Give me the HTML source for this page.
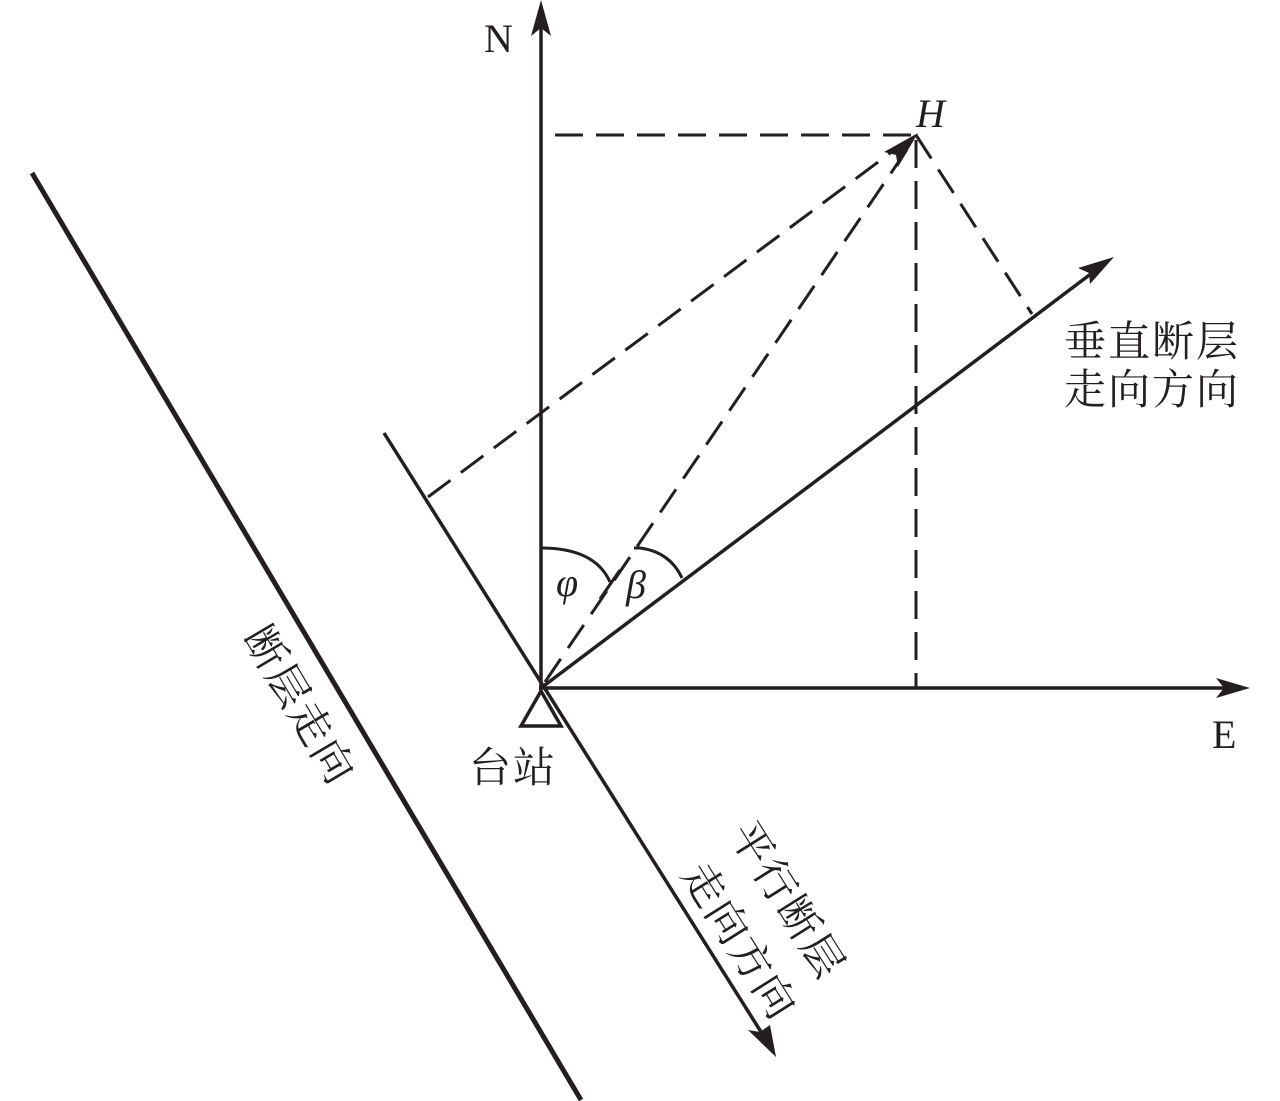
<!DOCTYPE html>
<html><head><meta charset="utf-8"><style>html,body{margin:0;padding:0;background:#fff}svg{display:block}</style></head>
<body>
<svg width="1280" height="1101" viewBox="0 0 1280 1101" xmlns="http://www.w3.org/2000/svg" font-family="'Liberation Serif','Noto Serif CJK SC',serif" fill="none" stroke="#231f20">
<line x1="32" y1="173" x2="581" y2="1100" stroke-width="5"/>
<line x1="541" y1="690" x2="541" y2="20" stroke-width="3.5"/>
<polygon points="541,0 531,36 541,28 551,36" fill="#231f20" stroke="none"/>
<line x1="539" y1="688" x2="1232" y2="688" stroke-width="3.5"/>
<polygon points="1250,688 1216,678 1224,688 1216,698" fill="#231f20" stroke="none"/>
<line x1="541" y1="688" x2="1100" y2="267" stroke-width="3.5"/>
<polygon points="1114,257 1078,268 1089,273 1090,284" fill="#231f20" stroke="none"/>
<line x1="384" y1="433" x2="768" y2="1043" stroke-width="3.5"/>
<polygon points="776,1057 748,1030 760,1032 770,1025" fill="#231f20" stroke="none"/>
<g stroke-width="3" stroke-dasharray="28,13">
<line x1="555" y1="135" x2="916" y2="135"/>
<line x1="916" y1="140" x2="916" y2="688"/>
<line x1="916" y1="135" x2="1032" y2="314"/>
<line x1="428" y1="497" x2="905" y2="142"/>
<line x1="545" y1="682" x2="908" y2="148"/>
</g>
<polygon points="918,133 884,152 896,155 898,167" fill="#231f20" stroke="none"/>
<g stroke-width="3">
<path d="M541 548 Q595 548 610 582"/>
<line x1="600" y1="599" x2="620" y2="570"/>
<path d="M634 548 L640 548 Q670 552 682 578"/>
</g>
<polygon points="541,691 521,726 561,726" fill="none" stroke-width="3.5"/>
<g fill="#231f20" stroke="none" font-size="40">
<text x="484" y="52">N</text>
<text x="1212" y="748">E</text>
<text x="916" y="127" font-style="italic">H</text>
<text x="556" y="596" font-style="italic">φ</text>
<text x="626" y="598" font-style="italic">β</text>
<g font-size="42" letter-spacing="2">
<text x="469" y="782">台站</text>
<text x="1064" y="356">垂直断层</text>
<text x="1064" y="404">走向方向</text>
<text x="300" y="720" text-anchor="middle" transform="rotate(59.4 300 705)">断层走向</text>
<text x="788" y="915" text-anchor="middle" transform="rotate(57.8 788 900)">平行断层</text>
<text x="740" y="956" text-anchor="middle" transform="rotate(57.8 740 941)">走向方向</text>
</g>
</g>
</svg>
</body></html>
